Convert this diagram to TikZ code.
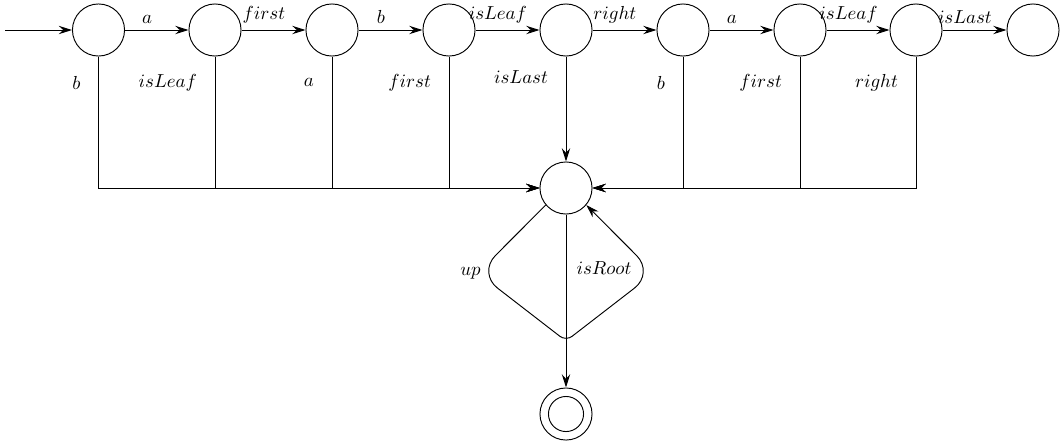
\documentclass[tikz,border=0pt]{standalone}
\usetikzlibrary{arrows.meta}
\begin{document}
\begin{tikzpicture}[x=0.53pt,y=-0.53pt,line width=0.5pt,
  state/.style={circle,draw,minimum size=27.6pt,inner sep=0pt},
  >={Stealth[length=7pt,width=4.4pt,inset=2.4pt]},
  toplbl/.style={above,pos=0.35},
  sidelbl/.style={left=6pt}]
\useasboundingbox (0,0) rectangle (1060,446);

% chain of states
\node[state] (q1) at (98.5,30) {};
\node[state] (q2) at (215,30) {};
\node[state] (q3) at (332,30) {};
\node[state] (q4) at (449,30) {};
\node[state] (q5) at (566,30) {};
\node[state] (q6) at (683,30) {};
\node[state] (q7) at (800,30) {};
\node[state] (q8) at (916,30) {};
\node[state] (q9) at (1033,30) {};

% collecting state and final state
\node[state] (s) at (566,188) {};
\node[state] (f) at (566,414) {};
\draw (f.center) circle[radius=9.3pt];

% initial arrow
\coordinate (init) at (5,30);
\draw[->] (init) -- (q1);

% transitions along the chain
\draw[->] (q1) -- node[toplbl]{$a$} (q2);
\draw[->] (q2) -- node[toplbl]{$first$} (q3);
\draw[->] (q3) -- node[toplbl]{$b$} (q4);
\draw[->] (q4) -- node[toplbl]{$isLeaf$} (q5);
\draw[->] (q5) -- node[toplbl]{$right$} (q6);
\draw[->] (q6) -- node[toplbl]{$a$} (q7);
\draw[->] (q7) -- node[toplbl]{$isLeaf$} (q8);
\draw[->] (q8) -- node[toplbl]{$isLast$} (q9);

% transitions down into the collecting state
\draw[->] (q1) |- node[sidelbl,pos=0.1]{$b$} (s);
\draw[->] (q2) |- node[sidelbl,pos=0.1]{$isLeaf$} (s);
\draw[->] (q3) |- node[sidelbl,pos=0.1]{$a$} (s);
\draw[->] (q4) |- node[sidelbl,pos=0.1]{$first$} (s);
\draw[->] (q5) -- node[sidelbl,pos=0.2]{$isLast$} (s);
\draw[->] (q6) |- node[sidelbl,pos=0.1]{$b$} (s);
\draw[->] (q7) |- node[sidelbl,pos=0.1]{$first$} (s);
\draw[->] (q8) |- node[sidelbl,pos=0.1]{$right$} (s);

% loop on the collecting state
\draw[->] (s.-140) [rounded corners=13pt] -- (478,273) node[left=-5pt]{$up$}
  [rounded corners=4pt] -- (566,341) [rounded corners=13pt] -- (654,273)
  -- (s.-40);

% exit to the final state
\draw[->] (s) -- node[right=2pt,pos=0.31]{$isRoot$} (f);
\end{tikzpicture}
\end{document}
